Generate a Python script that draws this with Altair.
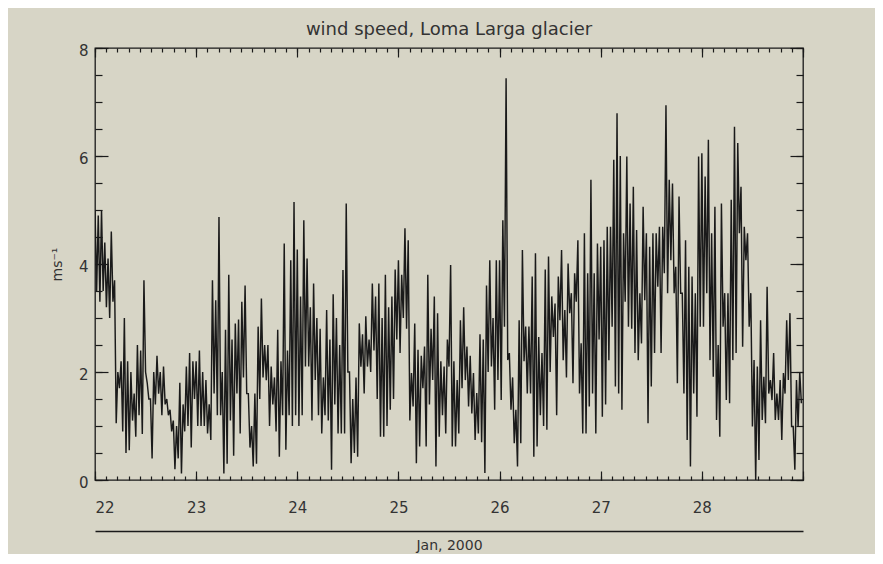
import altair as alt
import pandas as pd

# ---- wind speed (m/s): per day, 31 slots; the high and the low reading of each slot ----
hi22 = [5.0, 4.9, 5.0, 4.4, 4.1, 4.6, 3.7, 2.0, 2.2, 3.0, 2.2, 2.0, 1.6, 2.5, 2.4, 3.7,
        1.8, 1.5, 2.0, 2.3, 2.0, 2.1, 1.5, 1.3, 1.1, 1.0, 1.8, 1.4, 2.1, 2.35, 2.2]
lo22 = [3.5, 3.3, 3.5, 3.2, 3.0, 3.3, 1.05, 1.7, 0.9, 0.5, 0.55, 1.1, 0.8, 1.2, 0.85, 2.0,
        1.5, 0.4, 1.4, 1.6, 1.2, 1.4, 1.2, 0.9, 0.2, 0.4, 0.12, 0.9, 1.0, 0.6, 1.5]
hi23 = [2.2, 2.4, 2.0, 1.85, 1.4, 3.7, 3.33, 4.87, 2.0, 2.78, 3.8, 2.6, 2.9, 2.97, 3.3, 3.6,
        1.6, 1.0, 1.6, 2.84, 3.36, 2.5, 2.5, 2.1, 1.9, 2.78, 2.2, 4.38, 2.4, 4.07, 5.15]
lo23 = [1.0, 1.0, 1.0, 0.86, 0.74, 1.6, 1.2, 1.2, 0.12, 0.3, 1.1, 0.45, 1.6, 0.86, 1.9, 1.6,
        0.6, 0.25, 0.3, 1.5, 1.9, 1.85, 1.0, 1.4, 0.9, 0.43, 1.2, 0.56, 1.2, 1.0, 1.2]
hi24 = [4.27, 3.4, 4.81, 4.1, 3.2, 3.64, 3.0, 2.8, 1.9, 3.15, 2.6, 3.44, 3.0, 2.5, 3.89, 5.12,
        2.0, 1.5, 1.9, 2.9, 2.7, 3.03, 2.6, 3.64, 3.4, 3.64, 3.0, 3.8, 3.2, 3.4, 3.9]
lo24 = [1.0, 1.2, 2.1, 2.1, 1.1, 1.85, 1.2, 0.86, 1.2, 1.1, 0.19, 1.4, 0.86, 0.86, 0.86, 2.0,
        0.31, 0.5, 0.43, 2.1, 1.6, 2.1, 2.0, 2.4, 1.5, 0.8, 0.8, 1.0, 1.3, 1.5, 2.6]
hi25 = [4.07, 3.8, 4.66, 4.44, 1.98, 2.9, 2.41, 2.3, 2.47, 3.8, 2.8, 3.4, 3.09, 2.2, 2.1, 2.6,
        3.98, 2.2, 1.85, 2.96, 3.2, 2.47, 2.3, 1.98, 1.61, 2.7, 2.6, 3.6, 4.07, 3.0, 4.07]
lo25 = [2.35, 3.0, 2.8, 1.1, 1.36, 0.31, 0.62, 1.7, 0.62, 1.4, 1.85, 0.25, 0.8, 1.2, 0.86, 2.1,
        0.62, 0.62, 0.86, 1.7, 1.85, 1.36, 1.23, 0.74, 0.86, 0.7, 0.13, 2.0, 2.1, 1.3, 1.85]
hi26 = [4.07, 4.81, 7.44, 2.35, 1.9, 1.3, 2.96, 4.26, 2.84, 2.84, 3.77, 4.2, 2.65, 2.35, 3.9, 4.14,
        3.4, 3.27, 3.77, 4.26, 3.15, 4.01, 3.46, 3.83, 4.44, 2.53, 4.57, 3.83, 5.56, 3.83, 4.38]
lo26 = [1.48, 2.84, 2.22, 1.3, 0.68, 0.25, 0.68, 2.2, 1.6, 1.6, 0.43, 0.62, 1.2, 1.0, 0.93, 2.0,
        2.65, 1.2, 2.96, 2.22, 1.9, 3.09, 1.79, 3.3, 1.6, 0.86, 0.86, 1.36, 1.6, 0.86, 2.6]
hi27 = [4.32, 4.44, 4.69, 4.69, 5.93, 6.79, 6.0, 4.57, 5.99, 5.12, 5.43, 4.63, 3.46, 5.06, 4.57, 4.32,
        4.57, 4.57, 4.69, 4.69, 6.94, 5.56, 5.49, 3.95, 5.25, 3.46, 4.44, 3.95, 3.77, 3.46, 5.99]
lo27 = [1.17, 1.4, 2.22, 2.84, 1.73, 1.6, 1.3, 3.3, 2.84, 2.8, 2.35, 2.22, 2.53, 3.33, 1.05, 1.73,
        2.35, 3.58, 2.35, 3.83, 3.46, 4.07, 3.46, 1.79, 3.46, 1.6, 0.74, 0.25, 1.6, 1.17, 2.84]
hi28 = [6.05, 5.62, 6.3, 4.57, 5.06, 2.5, 5.12, 3.46, 3.46, 5.19, 6.54, 6.24, 5.43, 4.69, 4.57, 3.46,
        2.22, 2.1, 2.96, 1.91, 3.58, 1.85, 2.35, 1.6, 1.85, 1.98, 2.96, 3.09, 0.99, 1.85, 2.0]
lo28 = [2.84, 3.46, 2.22, 1.91, 1.11, 0.8, 2.84, 1.48, 1.42, 2.22, 2.35, 4.57, 2.47, 4.07, 2.84, 0.99,
        0.0, 0.37, 1.11, 1.05, 1.6, 1.48, 1.11, 1.11, 0.74, 1.6, 1.85, 0.99, 0.19, 0.99, 1.42]

day_starts = [22, 23, 24, 25, 26, 27, 28]
x_major = [22, 23, 24, 25, 26, 27, 28, 29]
x_labels = [22, 23, 24, 25, 26, 27, 28]
y_major = [0, 2, 4, 6, 8]
title_text = "wind speed, Loma Larga glacier"
y_title = "ms\u207b\u00b9"
x_title = "Jan, 2000"

his = [hi22, hi23, hi24, hi25, hi26, hi27, hi28]
los = [lo22, lo23, lo24, lo25, lo26, lo27, lo28]
times, values = [], []
for d, hs, ls in zip(day_starts, his, los):
    n = len(hs)
    for j, (h, l) in enumerate(zip(hs, ls)):
        times.append(d + j / n)
        values.append(h)
        times.append(d + (j + 0.5) / n)
        values.append(l)
df = pd.DataFrame({"t": times, "v": values})

x_minor = [22 + i / 9 for i in range(7 * 9 + 1)]
y_minor = [i * 0.5 for i in range(17)]

# ---- style ----
W, H = 708, 432
BG = "#d7d5c6"
INK = "#1a1a1a"
TXT = "#333333"
FONT = "DejaVu Sans"

xs = alt.Scale(domain=[22, 29], nice=False, zero=False)
ys = alt.Scale(domain=[0, 8], nice=False, zero=True)


def base(visible=False):
    return alt.Chart(df).mark_line(
        color=INK, strokeWidth=1.45, opacity=1 if visible else 0, clip=True
    )


def tick_axis(orient, offset, values, size):
    return alt.Axis(
        orient=orient, offset=offset, values=values, tickSize=size,
        ticks=True, tickColor=INK, tickWidth=1.2, labels=False,
        domain=False, grid=False,
    )


main = base(True).encode(
    x=alt.X("t:Q", scale=xs, title=None,
            axis=alt.Axis(orient="bottom", values=x_labels, ticks=False, domain=False,
                          grid=False, labelPadding=20, labelFontSize=15, labelFont=FONT,
                          labelColor=TXT, format="d")),
    y=alt.Y("v:Q", scale=ys, title=y_title,
            axis=alt.Axis(orient="left", values=y_major, ticks=False, domain=False,
                          grid=False, labelPadding=7, labelFontSize=15, labelFont=FONT,
                          labelColor=TXT, labelOffset=2, titleFont=FONT, titleFontSize=14,
                          titleFontWeight="normal", titleColor=TXT, titlePadding=14)),
)

ticks_bl_major = base().encode(
    x=alt.X("t:Q", scale=xs, title=None, axis=tick_axis("top", -H, x_major, 9)),
    y=alt.Y("v:Q", scale=ys, title=None, axis=tick_axis("right", -W, y_major, 13)),
)
ticks_bl_minor = base().encode(
    x=alt.X("t:Q", scale=xs, title=None, axis=tick_axis("top", -H, x_minor, 4)),
    y=alt.Y("v:Q", scale=ys, title=None, axis=tick_axis("right", -W, y_minor, 7)),
)
ticks_tr_major = base().encode(
    x=alt.X("t:Q", scale=xs, title=None, axis=tick_axis("bottom", -H, x_major, 9)),
    y=alt.Y("v:Q", scale=ys, title=None, axis=tick_axis("left", -W, y_major, 13)),
)
ticks_tr_minor = base().encode(
    x=alt.X("t:Q", scale=xs, title=None, axis=tick_axis("bottom", -H, x_minor, 4)),
    y=alt.Y("v:Q", scale=ys, title=None, axis=tick_axis("left", -W, y_minor, 7)),
)
date_axis = base().encode(
    x=alt.X("t:Q", scale=xs, title=x_title,
            axis=alt.Axis(orient="bottom", offset=51, values=x_major, ticks=False,
                          labels=False, grid=False, domain=True, domainColor=INK,
                          domainWidth=1.3, titleFont=FONT, titleFontSize=14,
                          titleFontWeight="normal", titleColor=TXT, titlePadding=7)),
    y=alt.Y("v:Q", scale=ys, axis=None),
)

chart = alt.layer(
    main, ticks_bl_major, ticks_bl_minor, ticks_tr_major, ticks_tr_minor, date_axis
).resolve_axis(
    x="independent", y="independent"
).properties(
    width=W, height=H,
    title=alt.TitleParams(title_text, font=FONT, fontSize=18, fontWeight="normal",
                          color=TXT, anchor="middle", frame="group", offset=4),
    background=BG,
    padding={"left": 87, "top": 40, "right": 72, "bottom": 74},
    autosize=alt.AutoSizeParams(type="none"),
).configure_view(
    stroke=INK, strokeWidth=1.3
)

chart.save("out.html", embed_options={"renderer": "svg", "actions": False})
